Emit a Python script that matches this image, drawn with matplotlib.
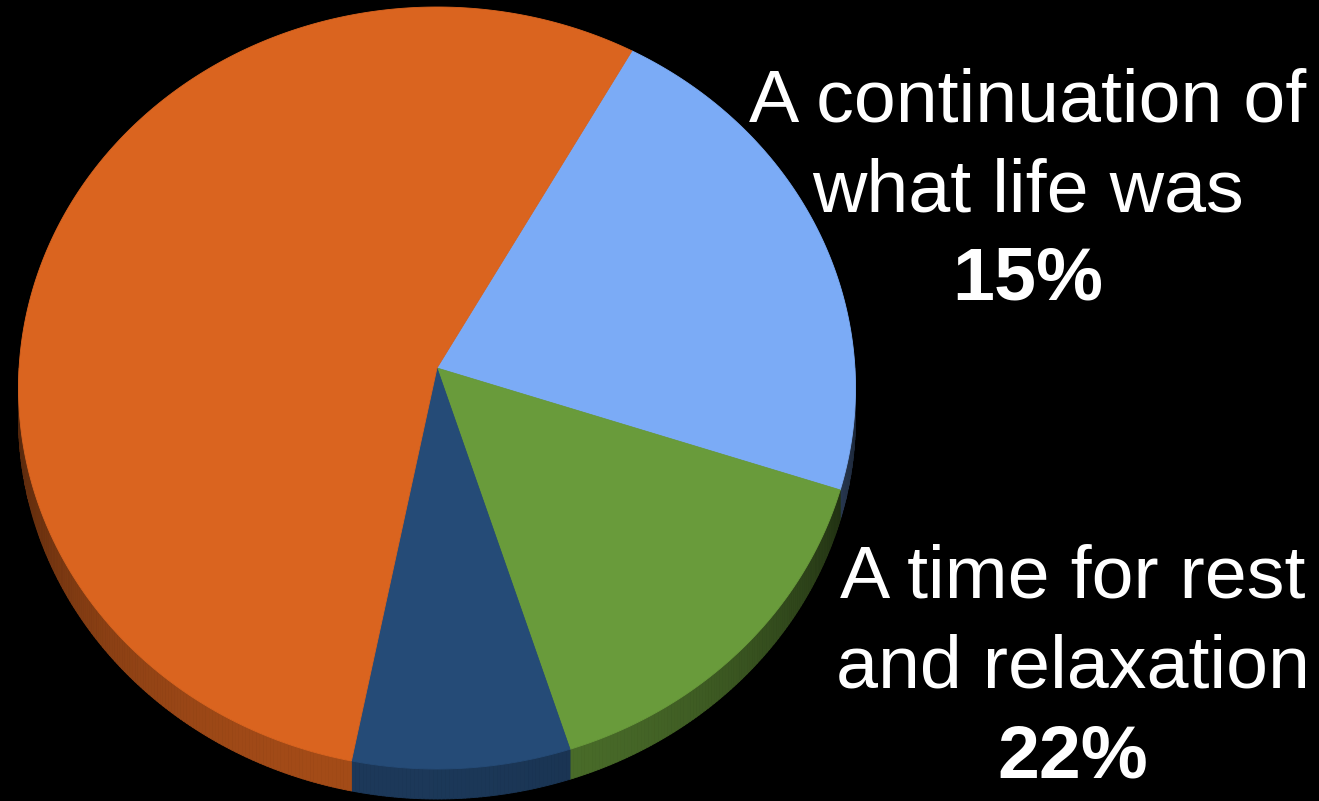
import numpy as np
import matplotlib
matplotlib.use("Agg")
import matplotlib.pyplot as plt
from matplotlib.patches import Polygon
from matplotlib.collections import PolyCollection
from matplotlib.colors import to_rgb

# Survey shares, listed clockwise starting from the upper-right slice
slice_names = [
    "A time for rest and relaxation",
    "A continuation of what life was",
    "Other view",
    "Remaining responses",
]
values = [22, 15, 8, 55]
top_colors = ["#7BABF6", "#699B3B", "#254B77", "#DA641F"]

# Text blocks shown to the right of the pie
label_lines = {
    "A continuation of what life was": ["A continuation of", "what life was"],
    "A time for rest and relaxation": ["A time for rest", "and relaxation"],
}

# ---- layout (pixel space of the 1319x801 canvas) ----
W, H = 1319, 801
apex_x, apex_y = 437.0, 368.0   # projected centre of the disc
y_far, y_near = 7.0, 769.0      # top and bottom of the rim ellipse
half_width = 418.5              # half of the rim ellipse's width
depth = 30.0                    # visible thickness of the disc
start_angle = 29.2              # clockwise from 12 o'clock

# Perspective mapping of the unit disc (u, v), v = -1 far edge, v = +1 near edge:
#   x = apex_x + k*u / (1 + c*v),   y = (a*v + apex_y) / (1 + c*v)
c = (y_near + y_far - 2 * apex_y) / (y_far - y_near)
a = y_near * (1 + c) - apex_y
vs = np.linspace(-1, 1, 4001)
k = half_width / np.max(np.sqrt(1 - vs ** 2) / (1 + c * vs))

fig = plt.figure(figsize=(W / 100, H / 100), dpi=100, facecolor="black")
ax = fig.add_axes([0, 0, 1, 1])
ax.set_xlim(0, W)
ax.set_ylim(H, 0)
ax.set_facecolor("black")
ax.axis("off")


def rim(theta_deg, dy=0.0):
    t = np.radians(theta_deg)
    u, v = np.sin(t), -np.cos(t)
    den = 1 + c * v
    return apex_x + k * u / den, (a * v + apex_y) / den + dy


def shade(theta_deg):
    return float(np.clip(0.25 + 0.5 * np.cos(np.radians(theta_deg - 190)), 0.2, 1.0))


total = float(sum(values))
edges = start_angle + 360.0 * np.concatenate([[0], np.cumsum(values)]) / total

# Disc side (only the lower half of the rim faces the viewer)
for i, col in enumerate(top_colors):
    lo_a, hi_b = edges[i], edges[i + 1]
    base = np.array(to_rgb(col))
    for off in (0.0, 360.0):
        lo, hi = max(lo_a - off, 90.0), min(hi_b - off, 270.0)
        if hi <= lo:
            continue
        steps = np.linspace(lo, hi, max(int((hi - lo) * 2), 2))
        quads, fcs = [], []
        for t0, t1 in zip(steps[:-1], steps[1:]):
            p0, p1 = rim(t0), rim(t1)
            q1, q0 = rim(t1, depth), rim(t0, depth)
            quads.append([p0, p1, q1, q0])
            fcs.append(tuple(base * shade(0.5 * (t0 + t1))))
        ax.add_collection(PolyCollection(quads, facecolors=fcs, edgecolors=fcs,
                                         linewidths=0.6, zorder=1))

# Top faces of the slices
for i, col in enumerate(top_colors):
    lo_a, hi_b = edges[i], edges[i + 1]
    ts = np.linspace(lo_a, hi_b, max(int((hi_b - lo_a) * 3), 3))
    pts = [(apex_x, apex_y)] + [rim(t) for t in ts]
    ax.add_patch(Polygon(pts, closed=True, facecolor=col, edgecolor=col,
                         linewidth=0.6, zorder=2))

# Labels
font = "Liberation Sans"
fs = 54.3
placements = {
    "A continuation of what life was": (1028, [122, 211, 300]),
    "A time for rest and relaxation": (1073, [598, 688, 777]),
}
for name, (x, baselines) in placements.items():
    pct = values[slice_names.index(name)]
    lines = label_lines[name]
    for line, y in zip(lines, baselines[:2]):
        ax.text(x, y, line, color="white", fontsize=fs, family=font,
                ha="center", va="baseline", zorder=3)
    ax.text(x, baselines[2], f"{pct}%", color="white", fontsize=fs,
            family=font, fontweight="bold", ha="center", va="baseline", zorder=3)

fig.savefig("out.png", dpi=100, facecolor="black")
